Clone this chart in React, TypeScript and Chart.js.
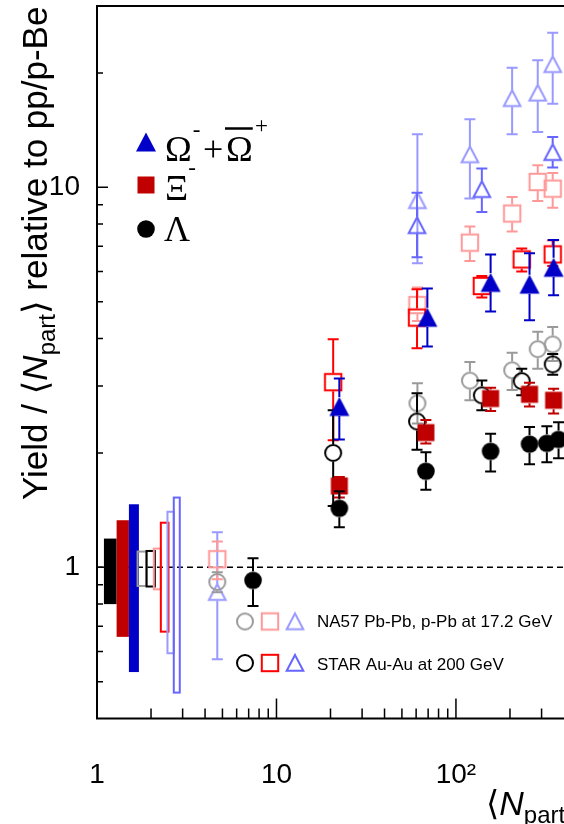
import { useEffect, useRef } from 'react';
import { Chart, registerables } from 'chart.js';

Chart.register(...registerables);

// ---------------- data ----------------
// Filled markers (main data): Lambda, Xi-, Omega
const mainLamNpart = [7.4, 22.4, 68, 156, 257, 321, 373];
const mainLamYield = [0.924, 1.43, 1.79, 2.02, 2.11, 2.12, 2.17];
const mainLamHigh = [1.056, 1.585, 2.007, 2.247, 2.34, 2.35, 2.41];
const mainLamLow = [0.791, 1.274, 1.6, 1.786, 1.867, 1.89, 1.936];

const mainXiNpart = [22.4, 68, 156, 257, 350];
const mainXiYield = [1.637, 2.262, 2.78, 2.853, 2.751];
const mainXiHigh = [1.728, 2.44, 2.97, 3.06, 2.95];
const mainXiLow = [1.526, 2.116, 2.578, 2.65, 2.54];

const mainOmNpart = [22.4, 69.3, 156, 257, 350];
const mainOmYield = [2.65, 4.55, 5.62, 5.56, 6.16];
const mainOmHigh = [3.14, 5.42, 6.66, 6.71, 7.27];
const mainOmLow = [2.17, 3.81, 4.71, 4.47, 5.2];

// NA57 Pb-Pb, p-Pb at 17.2 GeV
const na57Npart = [4.68, 61, 119.6, 205.6, 285.6, 346];
const na57LamYield = [0.915, 2.7, 3.1, 3.3, 3.75, 3.86];
const na57LamHigh = [0.97, 3.05, 3.47, 3.67, 4.17, 4.29];
const na57LamLow = [0.86, 2.39, 2.75, 2.93, 3.33, 3.49];
const na57XiYield = [1.05, 4.9, 7.15, 8.53, 10.33, 9.92];
const na57XiHigh = [1.17, 5.45, 7.88, 9.43, 11.43, 10.9];
const na57XiLow = [0.93, 4.45, 6.4, 7.65, 9.2, 8.84];
const na57OmYield = [0.86, 9.24, 12.2, 17.15, 17.73, 21.07];
const na57OmHigh = [1.236, 13.8, 15.1, 20.65, 21.6, 25.5];
const na57OmLow = [0.573, 6.31, 9.35, 13.8, 13.98, 16.6];

// STAR Au-Au at 200 GeV
const starNpart = [20.7, 60.7, 139.4, 232.6, 346];
const starLamYield = [2.0, 2.42, 2.835, 3.09, 3.42];
const starLamHigh = [2.59, 2.87, 3.1, 3.33, 3.64];
const starLamLow = [1.45, 2.04, 2.59, 2.835, 3.21];
const starXiYield = [3.07, 4.54, 5.5, 6.46, 6.66];
const starXiHigh = [3.98, 5.39, 5.84, 6.9, 7.25];
const starXiLow = [2.16, 3.77, 5.13, 6.0, 6.21];
const starOmNpart = [60.7, 139.4, 346];
const starOmYield = [7.94, 9.88, 12.37];
const starOmHigh = [9.67, 11.2, 13.57];
const starOmLow = [6.55, 8.61, 11.27];

// normalisation-uncertainty boxes near <Npart> = 1..3
const normNpartLow = [1.093, 1.286, 1.506, 1.683, 1.888, 2.073, 2.268, 2.47, 2.678];
const normNpartHigh = [1.286, 1.506, 1.712, 1.888, 2.1, 2.268, 2.502, 2.678, 2.892];
const normLow = [0.8, 0.656, 0.53, 0.893, 0.89, 0.875, 0.677, 0.594, 0.468];
const normHigh = [1.19, 1.33, 1.465, 1.1, 1.104, 1.12, 1.31, 1.4, 1.526];

const refLevel = 1;

// axes
const xTickValues = [1, 2, 3, 4, 5, 6, 7, 8, 9, 10, 20, 30, 40, 50, 60, 70, 80, 90, 100, 200, 300, 400];
const xLabelValues = [1, 10, 100];
const xLabelTexts = ['1', '10', '10\u00B2'];
const yTickValues = [0.5, 0.6, 0.7, 0.8, 0.9, 1, 2, 3, 4, 5, 6, 7, 8, 9, 10, 20];
const yLabelValues = [1, 10];
const yLabelTexts = ['1', '10'];

// ---------------- styles ----------------
const cBlueFill = '#0000c8';
const cRedFill = '#c00000';
const cBlack = '#000000';
const cGray = '#9a9a9a';
const cPink = '#ff9999';
const cLightBlue = '#9999ff';
const cRed = '#ff0000';
const cBlue = '#6666ff';
const normColors = [cBlack, cRedFill, cBlueFill, cGray, cBlack, cPink, cRed, cLightBlue, cBlue];
const normFilled = [true, true, true, false, false, false, false, false, false];

const SANS = "'Liberation Sans', Arial, Helvetica, 'DejaVu Sans', sans-serif";
const SERIF = "'Liberation Serif', 'Times New Roman', 'DejaVu Serif', serif";

type Shape = 'circle' | 'square' | 'triangle';

function makeMarker(shape: Shape, color: string, filled: boolean): HTMLCanvasElement {
  const S = 26;
  const c = document.createElement('canvas');
  c.width = S;
  c.height = S;
  const g = c.getContext('2d')!;
  const m = S / 2;
  g.fillStyle = color;
  g.strokeStyle = color;
  g.lineWidth = 2;
  g.lineJoin = 'miter';
  if (shape === 'circle') {
    g.beginPath();
    if (filled) {
      g.arc(m, m, 8.8, 0, Math.PI * 2);
      g.fill();
    } else {
      g.arc(m, m, 8, 0, Math.PI * 2);
      g.stroke();
    }
  } else if (shape === 'square') {
    if (filled) g.fillRect(m - 8.5, m - 8.5, 17, 17);
    else g.strokeRect(m - 8.2, m - 8.2, 16.4, 16.4);
  } else {
    g.beginPath();
    if (filled) {
      g.moveTo(m, m - 9.5);
      g.lineTo(m + 10, m + 9.5);
      g.lineTo(m - 10, m + 9.5);
      g.closePath();
      g.fill();
    } else {
      g.moveTo(m, m - 8);
      g.lineTo(m + 8.3, m + 7.8);
      g.lineTo(m - 8.3, m + 7.8);
      g.closePath();
      g.stroke();
    }
  }
  return c;
}

function pts(xs: number[], ys: number[], hi: number[], lo: number[]) {
  return xs.map((x, i) => ({ x, y: ys[i], hi: hi[i], lo: lo[i] }));
}

function zeroPad(s: any) {
  s.paddingTop = 0;
  s.paddingBottom = 0;
  s.paddingLeft = 0;
  s.paddingRight = 0;
}

export default function App() {
  const ref = useRef<HTMLCanvasElement>(null);

  useEffect(() => {
    const canvas = ref.current!;
    const mk = {
      lamFill: makeMarker('circle', cBlack, true),
      xiFill: makeMarker('square', cRedFill, true),
      omFill: makeMarker('triangle', cBlueFill, true),
      naLam: makeMarker('circle', cGray, false),
      naXi: makeMarker('square', cPink, false),
      naOm: makeMarker('triangle', cLightBlue, false),
      stLam: makeMarker('circle', cBlack, false),
      stXi: makeMarker('square', cRed, false),
      stOm: makeMarker('triangle', cBlue, false),
    };

    const ds = (label: string, data: any[], img: HTMLCanvasElement, color: string, gap: number) => ({
      label,
      data,
      pointStyle: img,
      pointRadius: 9,
      showLine: false,
      clip: false as any,
      errColor: color,
      gap,
    });

    const datasets: any[] = [
      ds('Lambda', pts(mainLamNpart, mainLamYield, mainLamHigh, mainLamLow), mk.lamFill, cBlack, 9),
      ds('Xi', pts(mainXiNpart, mainXiYield, mainXiHigh, mainXiLow), mk.xiFill, cRedFill, 9),
      ds('Omega', pts(mainOmNpart, mainOmYield, mainOmHigh, mainOmLow), mk.omFill, cBlueFill, 9.5),
      ds('STAR Lambda', pts(starNpart, starLamYield, starLamHigh, starLamLow), mk.stLam, cBlack, 9),
      ds('STAR Xi', pts(starNpart, starXiYield, starXiHigh, starXiLow), mk.stXi, cRed, 9),
      ds('STAR Omega', pts(starOmNpart, starOmYield, starOmHigh, starOmLow), mk.stOm, cBlue, 8.5),
      ds('NA57 Lambda', pts(na57Npart, na57LamYield, na57LamHigh, na57LamLow), mk.naLam, cGray, 9),
      ds('NA57 Xi', pts(na57Npart, na57XiYield, na57XiHigh, na57XiLow), mk.naXi, cPink, 9),
      ds('NA57 Omega', pts(na57Npart, na57OmYield, na57OmHigh, na57OmLow), mk.naOm, cLightBlue, 8.5),
    ];

    const deco = {
      id: 'deco',
      beforeDatasetsDraw(chart: any) {
        const { ctx, chartArea: a } = chart;
        const xs = chart.scales.x;
        const ys = chart.scales.y;
        ctx.save();
        // reference level
        ctx.strokeStyle = '#000';
        ctx.lineWidth = 1.5;
        ctx.setLineDash([6, 4]);
        const y1 = ys.getPixelForValue(refLevel);
        ctx.beginPath();
        ctx.moveTo(a.left, y1);
        ctx.lineTo(a.right, y1);
        ctx.stroke();
        ctx.setLineDash([]);
        // normalisation boxes
        for (let i = 0; i < normNpartLow.length; i++) {
          const l = xs.getPixelForValue(normNpartLow[i]);
          const r = xs.getPixelForValue(normNpartHigh[i]);
          const t = ys.getPixelForValue(normHigh[i]);
          const b = ys.getPixelForValue(normLow[i]);
          if (normFilled[i]) {
            ctx.fillStyle = normColors[i];
            ctx.fillRect(l, t, r - l, b - t);
          } else {
            ctx.strokeStyle = normColors[i];
            ctx.lineWidth = 2;
            ctx.strokeRect(l, t, r - l, b - t);
          }
        }
        ctx.restore();
      },
      beforeDatasetDraw(chart: any, args: any) {
        const d: any = chart.data.datasets[args.index];
        const { ctx } = chart;
        const xs = chart.scales.x;
        const ys = chart.scales.y;
        ctx.save();
        ctx.strokeStyle = d.errColor;
        ctx.lineWidth = 2;
        for (const p of d.data) {
          const px = xs.getPixelForValue(p.x);
          const py = ys.getPixelForValue(p.y);
          const ph = ys.getPixelForValue(p.hi);
          const pl = ys.getPixelForValue(p.lo);
          ctx.beginPath();
          if (ph < py - d.gap) {
            ctx.moveTo(px, ph);
            ctx.lineTo(px, py - d.gap);
          }
          if (pl > py + d.gap) {
            ctx.moveTo(px, py + d.gap);
            ctx.lineTo(px, pl);
          }
          ctx.moveTo(px - 5.5, ph);
          ctx.lineTo(px + 5.5, ph);
          ctx.moveTo(px - 5.5, pl);
          ctx.lineTo(px + 5.5, pl);
          ctx.stroke();
        }
        ctx.restore();
      },
      afterDraw(chart: any) {
        const { ctx, chartArea: a } = chart;
        const xs = chart.scales.x;
        const ys = chart.scales.y;
        ctx.save();
        ctx.strokeStyle = '#000';
        ctx.fillStyle = '#000';
        // inward tick marks
        ctx.lineWidth = 1.5;
        ctx.beginPath();
        for (const v of xTickValues) {
          const px = xs.getPixelForValue(v);
          if (px <= a.left + 1 || px >= a.right) continue;
          const len = xLabelValues.includes(v) ? 20 : 10;
          ctx.moveTo(px, a.bottom);
          ctx.lineTo(px, a.bottom - len);
        }
        for (const v of yTickValues) {
          const py = ys.getPixelForValue(v);
          if (py <= a.top || py >= a.bottom) continue;
          const len = yLabelValues.includes(v) ? 11 : 6;
          ctx.moveTo(a.left, py);
          ctx.lineTo(a.left + len, py);
        }
        ctx.stroke();
        // frame
        ctx.lineWidth = 2;
        ctx.beginPath();
        ctx.moveTo(a.right + 2, a.top);
        ctx.lineTo(a.left, a.top);
        ctx.lineTo(a.left, a.bottom);
        ctx.lineTo(a.right + 2, a.bottom);
        ctx.stroke();

        // rich text helper
        let cx = 0;
        const seg = (txt: string, font: string, dy = 0) => {
          ctx.font = font;
          ctx.fillText(txt, cx, dy);
          cx += ctx.measureText(txt).width;
        };
        ctx.textAlign = 'left';
        ctx.textBaseline = 'alphabetic';

        // y title
        const F = `35px ${SANS}`;
        const FI = `italic 35px ${SANS}`;
        const FS = `24px ${SANS}`;
        ctx.save();
        ctx.translate(47, 500);
        ctx.rotate(-Math.PI / 2);
        cx = 0;
        seg('Yield / ', F);
        seg('\u27E8', F);
        seg('N', FI);
        seg('part', FS, 8);
        seg('\u27E9', F);
        seg(' relative to pp/p-Be', F);
        ctx.restore();

        // x title
        ctx.save();
        ctx.translate(486, 815);
        cx = 0;
        seg('\u27E8', `34px ${SANS}`);
        seg('N', `italic 34px ${SANS}`);
        seg('part', FS, 8);
        seg('\u27E9', `34px ${SANS}`);
        ctx.restore();

        // particle legend
        const LF = `36px ${SERIF}`;
        const LS = `23px ${SERIF}`;
        const drawImg = (img: HTMLCanvasElement, x: number, y: number) =>
          ctx.drawImage(img, x - img.width / 2, y - img.height / 2);
        drawImg(mk.omFill, 146, 142);
        drawImg(mk.xiFill, 146, 185);
        drawImg(mk.lamFill, 146, 229);
        ctx.font = LF;
        ctx.fillText('\u03A9', 165, 161);
        const wO = ctx.measureText('\u03A9').width;
        ctx.font = LS;
        ctx.fillText('-', 165 + wO + 1, 137);
        ctx.font = LF;
        ctx.fillText('+', 203, 161);
        ctx.fillText('\u03A9', 226, 161);
        ctx.lineWidth = 2.5;
        ctx.beginPath();
        ctx.moveTo(225, 128.5);
        ctx.lineTo(226 + wO, 128.5);
        ctx.stroke();
        ctx.font = LS;
        ctx.fillText('+', 255, 133);
        ctx.font = LF;
        ctx.fillText('\u039E', 165, 200);
        const wX = ctx.measureText('\u039E').width;
        ctx.font = LS;
        ctx.fillText('-', 165 + wX, 175);
        ctx.font = LF;
        ctx.fillText('\u039B', 164, 241);

        // experiment legend
        drawImg(mk.naLam, 245, 621.5);
        drawImg(mk.naXi, 270, 621.5);
        drawImg(mk.naOm, 295, 621.5);
        drawImg(mk.stLam, 245, 663);
        drawImg(mk.stXi, 270, 663);
        drawImg(mk.stOm, 295, 663);
        ctx.font = `17px ${SANS}`;
        ctx.fillText('NA57 Pb-Pb, p-Pb at 17.2 GeV', 317, 626.5);
        ctx.fillText('STAR Au-Au at 200 GeV', 317, 669.5);
        ctx.restore();
      },
    };

    const chart = new Chart(canvas, {
      type: 'scatter',
      data: { datasets },
      options: {
        animation: false,
        responsive: false,
        devicePixelRatio: 1,
        events: [],
        layout: { autoPadding: false, padding: { top: 6, left: 0, right: 0, bottom: 0 } },
        plugins: { legend: { display: false }, tooltip: { enabled: false } },
        scales: {
          x: {
            type: 'logarithmic',
            min: 1,
            max: 400,
            grid: { display: false, drawTicks: false },
            border: { display: false },
            afterBuildTicks: (s: any) => {
              s.ticks = xLabelValues.map((v) => ({ value: v }));
            },
            afterFit: (s: any) => {
              s.height = 105.5;
              zeroPad(s);
            },
            ticks: {
              autoSkip: false,
              maxRotation: 0,
              minRotation: 0,
              padding: 40,
              color: '#000',
              font: { family: SANS, size: 28 },
              callback: (v: any) => {
                const k = xLabelValues.indexOf(Number(v));
                return k >= 0 ? xLabelTexts[k] : '';
              },
            },
          },
          y: {
            type: 'logarithmic',
            min: 0.4,
            max: 30,
            grid: { display: false, drawTicks: false },
            border: { display: false },
            afterBuildTicks: (s: any) => {
              s.ticks = yLabelValues.map((v) => ({ value: v }));
            },
            afterFit: (s: any) => {
              s.width = 97;
              zeroPad(s);
            },
            ticks: {
              autoSkip: false,
              padding: 17,
              color: '#000',
              font: { family: SANS, size: 28 },
              callback: (v: any) => {
                const k = yLabelValues.indexOf(Number(v));
                return k >= 0 ? yLabelTexts[k] : '';
              },
            },
          },
        },
      } as any,
      plugins: [deco as any],
    });
    return () => chart.destroy();
  }, []);

  return (
    <div style={{ position: 'fixed', left: 0, top: 0, width: 564, height: 824, background: '#fff', overflow: 'hidden' }}>
      <canvas ref={ref} width={564} height={824} style={{ display: 'block', width: 564, height: 824 }} />
    </div>
  );
}
